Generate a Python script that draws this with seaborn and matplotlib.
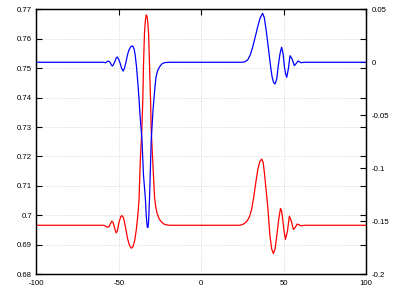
import numpy as np
import pandas as pd
import seaborn as sns
import matplotlib.pyplot as plt
from matplotlib.ticker import FormatStrFormatter, MultipleLocator

# values
x_red = [-100, -59.2, -58.0, -56.6, -55.8, -55.0, -54.2, -53.5, -52.8, -52.1, -51.5, -50.8,
         -49.8, -48.8, -48.0, -47.2, -46.5, -45.6, -44.7, -43.5, -42.4, -41.4, -40.4, -39.4,
         -38.4, -37.7, -37.0, -36.0, -35.4, -35.0, -34.4, -33.8, -33.3, -32.8, -32.4, -31.9,
         -31.3, -30.7, -30.3, -29.3, -28.3, -27.5, -26.7, -25.5, -24.2, -22.8, -21.6, -19.2,
         23.2, 24.8, 26.2, 27.8, 29.3, 30.6, 31.9, 33.1, 34.3, 35.5, 36.7, 37.6, 38.4, 39.4,
         40.4, 41.1, 41.8, 42.8, 43.8, 44.8, 45.8, 47.0, 48.1, 48.8, 49.5, 50.3, 51.1, 52.3,
         53.5, 54.7, 55.9, 57.0, 58.2, 59.4, 60.6, 62.6, 100]
y_red = [0.6966, 0.6966, 0.6963, 0.6959, 0.6962, 0.6972, 0.6980, 0.6976, 0.6963, 0.6948, 0.6940, 0.6948,
         0.6977, 0.6995, 0.6999, 0.6992, 0.6977, 0.6950, 0.6922, 0.6898, 0.6888, 0.6893, 0.6912, 0.6948,
         0.7001, 0.7052, 0.7176, 0.7290, 0.7392, 0.7505, 0.7619, 0.7665, 0.7681, 0.7675, 0.7657, 0.7619,
         0.7505, 0.7392, 0.7290, 0.7176, 0.7063, 0.7026, 0.7006, 0.6988, 0.6978, 0.6971, 0.6968, 0.6966,
         0.6966, 0.6968, 0.6972, 0.6980, 0.6995, 0.7020, 0.7063, 0.7110, 0.7154, 0.7182, 0.7191, 0.7180, 0.7142, 0.7085,
         0.7029, 0.6975, 0.6927, 0.6885, 0.6870, 0.6885, 0.6927, 0.6985, 0.7023, 0.7015, 0.6984, 0.6945, 0.6918, 0.6945,
         0.6997, 0.6980, 0.6952, 0.6958, 0.6970, 0.6968, 0.6964, 0.6966, 0.6966]

x_blue = [-100, -59.2, -58.0, -57.2, -56.4, -55.6, -55.0, -54.4, -53.8, -53.0, -52.2, -51.6, -50.9,
          -50.1, -49.2, -48.2, -47.3, -46.5, -45.6, -44.7, -43.8, -42.7, -41.6, -40.8, -40.1,
          -39.3, -38.4, -37.7, -37.0, -35.9, -35.0, -33.9, -33.3, -32.7, -32.3, -31.9, -31.3,
          -30.3, -29.2, -28.7, -28.0, -27.4, -26.5, -25.3, -23.8, -22.2, -19.2,
          25.2, 26.7, 28.2, 29.8, 31.3, 32.8, 34.3, 35.8, 37.3, 38.3, 39.4, 40.4, 41.4, 42.2, 43.0,
          43.9, 44.8, 45.8, 46.7, 47.8, 48.8, 49.7, 50.5, 51.2, 51.9, 52.9, 53.9, 55.2, 56.5,
          57.7, 58.8, 60.6, 62.6, 100]
y_blue = [0, 0, -0.0004, 0.0004, 0.0012, 0.0005, -0.0007, -0.0028, -0.0036, -0.0015, 0.0012, 0.0040, 0.0050,
          0.0030, -0.0007, -0.0060, -0.0083, -0.0055, 0.0003, 0.0070, 0.0116, 0.0148, 0.0154, 0.0130, 0.0078,
          -0.0030, -0.0196, -0.0350, -0.0517, -0.0734, -0.1065, -0.1272, -0.1450, -0.1556, -0.1560, -0.1508, -0.1272,
          -0.0734, -0.0451, -0.0357, -0.0230, -0.0140, -0.0083, -0.0045, -0.0015, -0.0003, 0,
          0, 0.0006, 0.0022, 0.0070, 0.0147, 0.0240, 0.0336, 0.0420, 0.0462, 0.0420, 0.0305, 0.0180, 0.0053, -0.0050, -0.0136,
          -0.0190, -0.0205, -0.0160, -0.0042, 0.0080, 0.0142, 0.0080, -0.0042, -0.0110, -0.0142, -0.0060, 0.0062, 0.0030, -0.0032,
          -0.0010, 0.0012, -0.0004, 0, 0]

red = pd.DataFrame({'x': x_red, 'y': y_red})
blue = pd.DataFrame({'x': x_blue, 'y': y_blue})

sns.set_theme(style="white")
plt.rcParams['font.family'] = ['Liberation Sans', 'DejaVu Sans']
plt.rcParams['axes.unicode_minus'] = False

fig = plt.figure(figsize=(4.15, 2.91), dpi=100)
ax = fig.add_axes([0.0875, 0.058, 0.7945, 0.91])
ax2 = ax.twinx()

sns.lineplot(data=red, x='x', y='y', ax=ax, color='#ff0000', lw=0.9, sort=False, estimator=None)
sns.lineplot(data=blue, x='x', y='y', ax=ax2, color='#0000ff', lw=0.9, sort=False, estimator=None)

ax.set_xlim(-100, 100)
ax.set_ylim(0.68, 0.77)
ax2.set_ylim(-0.2, 0.05)
ax.xaxis.set_major_locator(MultipleLocator(50))
ax.yaxis.set_major_locator(MultipleLocator(0.01))
ax2.yaxis.set_major_locator(MultipleLocator(0.05))
ax.xaxis.set_major_formatter(FormatStrFormatter('%g'))
ax.yaxis.set_major_formatter(FormatStrFormatter('%g'))
ax2.yaxis.set_major_formatter(FormatStrFormatter('%g'))

ax.grid(True, linestyle=(0, (1, 2)), color='#c8c8c8', lw=0.6)
ax.set_axisbelow(True)
ax.set_xlabel('')
ax.set_ylabel('')
ax2.set_ylabel('')

ax.tick_params(direction='in', top=True, right=True, length=4, width=0.8,
               labelsize=5.6, colors='black', pad=3)
ax.tick_params(axis='x', pad=4)
ax2.tick_params(direction='in', length=4, width=0.8, labelsize=5.6, colors='black', pad=4)

for a in (ax, ax2):
    for s in a.spines.values():
        s.set_color('black')
        s.set_linewidth(0.9)

fig.savefig('out.png', dpi=100)
